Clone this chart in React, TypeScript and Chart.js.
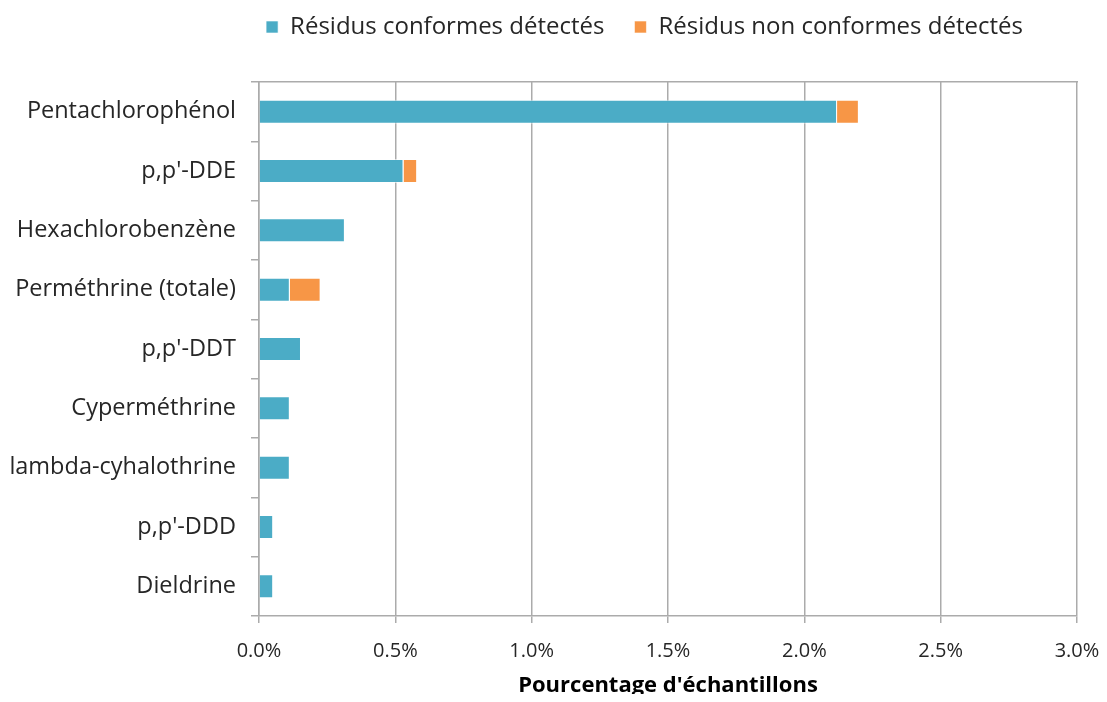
import React, { useEffect, useRef } from "react";
import { Chart, registerables } from "chart.js";

Chart.register(...registerables);

const categories = [
  "Pentachlorophénol",
  "p,p'-DDE",
  "Hexachlorobenzène",
  "Perméthrine (totale)",
  "p,p'-DDT",
  "Cyperméthrine",
  "lambda-cyhalothrine",
  "p,p'-DDD",
  "Dieldrine",
];
const conformes = [2.12, 0.53, 0.315, 0.113, 0.154, 0.113, 0.113, 0.052, 0.052];
const nonConformes = [0.08, 0.05, 0, 0.113, 0, 0, 0, 0, 0];
const seriesNames = ["Résidus conformes détectés", "Résidus non conformes détectés"];
const xMin = 0;
const xMax = 3;
const xStep = 0.5;
const xTitle = "Pourcentage d'échantillons";

const FONT = "'Open Sans', 'Noto Sans', sans-serif";
const GRID = "#ABABAB";
const TEXT = "#262626";

const legendShift = {
  id: "legendShift",
  afterLayout(chart: any) {
    const lg = chart.legend;
    if (lg) {
      lg.left += 91;
      lg.right += 91;
      lg.top -= 23;
      lg.bottom -= 23;
    }
  },
};

export default function App() {
  const ref = useRef<HTMLCanvasElement>(null);
  useEffect(() => {
    if (!ref.current) return;
    const chart = new Chart(ref.current, {
      type: "bar",
      data: {
        labels: categories,
        datasets: [
          {
            label: seriesNames[0],
            data: conformes,
            backgroundColor: "#4BACC6",
            borderColor: "rgba(255,255,255,0.6)",
            borderWidth: 1,
            barPercentage: 0.405,
            categoryPercentage: 1,
          },
          {
            label: seriesNames[1],
            data: nonConformes,
            backgroundColor: "#F79646",
            borderColor: "rgba(255,255,255,0.6)",
            borderWidth: 1,
            barPercentage: 0.405,
            categoryPercentage: 1,
          },
        ],
      },
      options: {
        indexAxis: "y",
        animation: false,
        responsive: true,
        maintainAspectRatio: false,
        layout: { padding: 0 },
        plugins: {
          legend: {
            position: "top",
            labels: {
              boxWidth: 12,
              boxHeight: 12,
              padding: 30,
              color: TEXT,
              font: { family: FONT, size: 24 },
            },
          },
          tooltip: { enabled: false },
        },
        scales: {
          x: {
            stacked: true,
            min: xMin,
            max: xMax,
            afterFit: (s: any) => {
              s.height = 86;
              s.paddingRight = 22;
            },
            ticks: {
              stepSize: xStep,
              color: TEXT,
              font: { family: FONT, size: 20 },
              padding: 16,
              callback: (v: any) => Number(v).toFixed(1) + "%",
            },
            grid: { color: GRID, lineWidth: 1.5, tickLength: 7 },
            border: { color: GRID, width: 1.5 },
            title: {
              display: true,
              text: xTitle,
              color: "#000",
              font: { family: FONT, size: 22, weight: "bold" },
              padding: { top: 0, bottom: 3 },
            },
          },
          x2: {
            type: "linear",
            position: "top",
            min: xMin,
            max: xMax,
            afterFit: (s: any) => {
              s.height = 10;
            },
            ticks: { display: false },
            grid: { display: false, drawTicks: false },
            border: { color: GRID, width: 1.5 },
          },
          y: {
            stacked: true,
            afterFit: (s: any) => {
              s.width = 251;
            },
            ticks: {
              color: TEXT,
              font: { family: FONT, size: 23.5 },
              padding: 15,
            },
            grid: { offset: true, drawOnChartArea: false, color: GRID, lineWidth: 1.5, tickLength: 8 },
            border: { color: GRID, width: 1.5 },
          },
        },
      },
      plugins: [legendShift],
    } as any);
    return () => chart.destroy();
  }, []);
  return (
    <div style={{ width: "100%", height: 694, marginBottom: -8, position: "relative" }}>
      <canvas ref={ref} />
    </div>
  );
}
